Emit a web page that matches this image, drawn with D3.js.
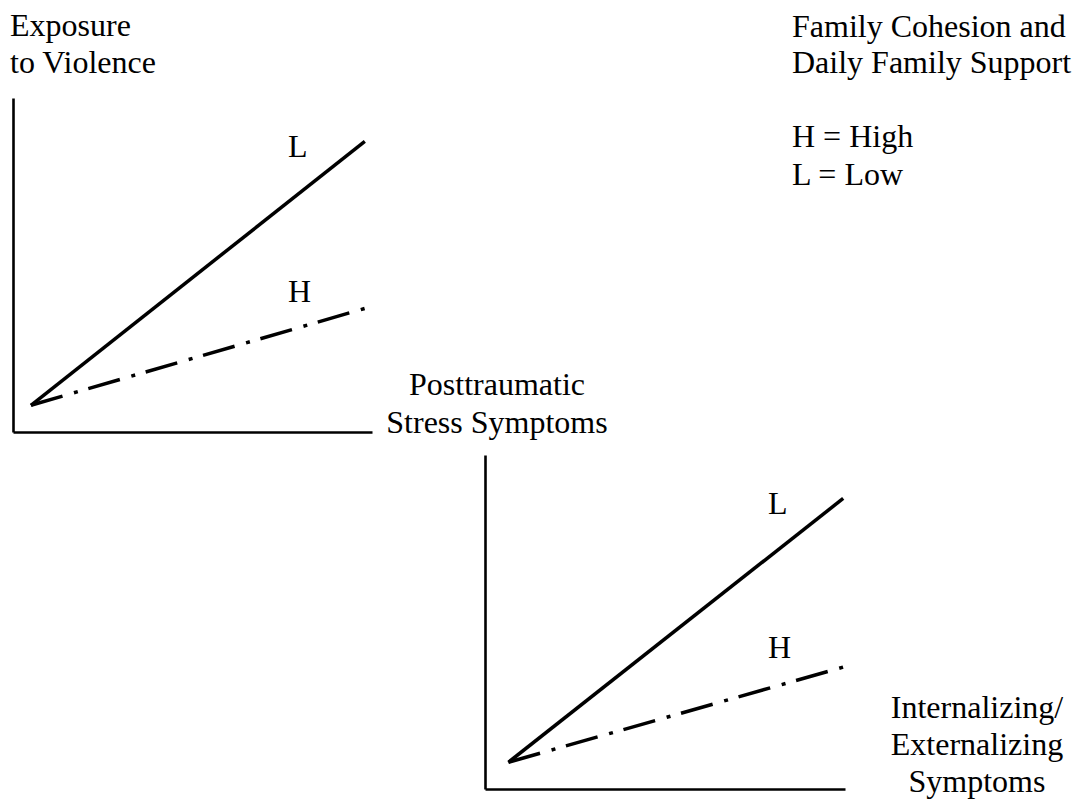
<!DOCTYPE html>
<html>
<head>
<meta charset="utf-8">
<script src="https://cdn.jsdelivr.net/npm/d3@7"></script>
<style>
  html, body { margin: 0; padding: 0; background: #fff; }
  svg { display: block; }
  text { font-family: "Liberation Serif", "Times New Roman", Times, serif; font-size: 32px; fill: #000; }
</style>
</head>
<body>
<svg id="chart" width="1076" height="800"></svg>
<script>
// ---- data ----
const xValues = [0.5, 9.8];                  // predictor low / high (0-10 scale), top panel
const botXValues = [0.65, 9.95];             // predictor low / high, bottom panel
const seriesNames = ["L", "H"];              // L = Low support, H = High support
const topL = [0.8, 8.7];                     // Exposure -> PTSS, low support
const topH = [0.8, 3.7];                     // Exposure -> PTSS, high support
const botL = [0.8, 8.7];                     // PTSS -> Int/Ext, low support
const botH = [0.8, 3.65];                    // PTSS -> Int/Ext, high support
const yAxisTitleTop = ["Exposure", "to Violence"];
const xAxisTitleTop = ["Posttraumatic", "Stress Symptoms"];
const xAxisTitleBot = ["Internalizing/", "Externalizing", "Symptoms"];
const legendTitle = ["Family Cohesion and", "Daily Family Support"];
const legendItems = ["H = High", "L = Low"];

const svg = d3.select("#chart");

function panel(cfg) {
  const x = d3.scaleLinear().domain([0, 10]).range([cfg.x0, cfg.x1]);
  const y = d3.scaleLinear().domain([0, 10]).range([cfg.y1, cfg.y0]);
  const g = svg.append("g");

  const ax = g.append("g").attr("transform", `translate(0,${cfg.y1})`)
    .call(d3.axisBottom(x).ticks(0).tickSizeOuter(0));
  const ay = g.append("g").attr("transform", `translate(${cfg.x0},0)`)
    .call(d3.axisLeft(y).ticks(0).tickSizeOuter(0));
  [ax, ay].forEach(a => a.select(".domain").attr("stroke", "#000").attr("stroke-width", 2.6));

  const line = d3.line().x(d => x(d[0])).y(d => y(d[1]));
  const lData = cfg.xs.map((v, i) => [v, cfg.L[i]]);
  const hData = cfg.xs.map((v, i) => [v, cfg.H[i]]);

  g.append("path").datum(lData).attr("d", line)
    .attr("fill", "none").attr("stroke", "#000").attr("stroke-width", 3.5)
    .attr("stroke-linecap", "butt");
  const hp = g.append("path").datum(hData).attr("d", line)
    .attr("fill", "none").attr("stroke", "#000").attr("stroke-width", 3.5)
    .attr("stroke-linecap", "butt");
  // dash-dot pattern fitted so the line ends on a dot
  const len = hp.node().getTotalLength();
  const base = [33, 12, 4, 11];
  const n = 5;
  const P = (len - (base[0] + base[1] + base[2])) / n;
  const k = P / 60;
  hp.attr("stroke-dasharray", base.map(v => v * k).join(","));

  g.append("text").attr("x", cfg.labX).attr("y", cfg.labLY).text(seriesNames[0]);
  g.append("text").attr("x", cfg.labX).attr("y", cfg.labHY).text(seriesNames[1]);
}

panel({ x0: 13, x1: 372, y0: 98, y1: 432, xs: xValues, L: topL, H: topH,
        labX: 288, labLY: 157, labHY: 302 });
panel({ x0: 485, x1: 845, y0: 455, y1: 789, xs: botXValues, L: botL, H: botH,
        labX: 768, labLY: 514, labHY: 658 });

// titles
const t1 = svg.append("text");
yAxisTitleTop.forEach((s, i) => t1.append("tspan").attr("x", 10).attr("y", 36 + i * 37).text(s));

const t2 = svg.append("text").attr("text-anchor", "middle");
xAxisTitleTop.forEach((s, i) => t2.append("tspan").attr("x", 497).attr("y", 395 + i * 38).text(s));

const t3 = svg.append("text").attr("text-anchor", "middle");
xAxisTitleBot.forEach((s, i) => t3.append("tspan").attr("x", 977).attr("y", 718 + i * 37).text(s));

const t4 = svg.append("text");
legendTitle.forEach((s, i) => t4.append("tspan").attr("x", 792).attr("y", 37 + i * 36).text(s));
const t5 = svg.append("text");
legendItems.forEach((s, i) => t5.append("tspan").attr("x", 792).attr("y", 147 + i * 37.5).text(s));
</script>
</body>
</html>
